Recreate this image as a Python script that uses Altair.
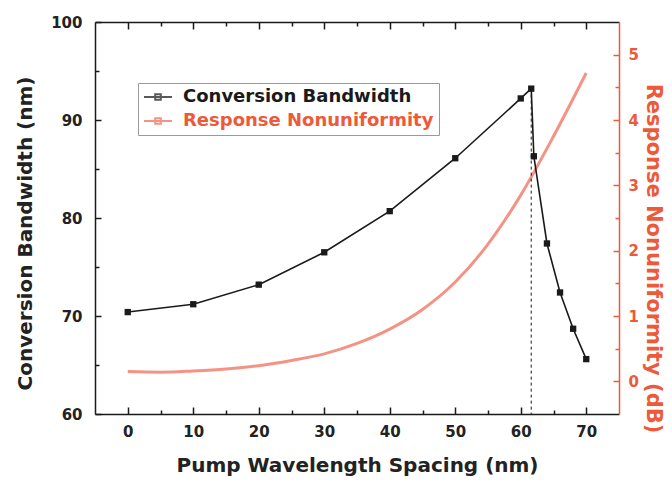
import altair as alt
import pandas as pd

# ---- data ----
spacing = [0, 10, 20, 30, 40, 50, 60, 61.6, 62, 64, 66, 68, 70]
bandwidth = [70.4, 71.2, 73.2, 76.5, 80.7, 86.1, 92.2, 93.2, 86.3, 77.4, 72.4, 68.7, 65.6]

nu_spacing = [0, 5, 10, 15, 20, 25, 30, 35, 40, 45, 50, 55, 60, 65, 70]
nonuniformity = [0.15, 0.14, 0.16, 0.19, 0.24, 0.32, 0.42, 0.58, 0.80, 1.10, 1.52, 2.10, 2.85, 3.75, 4.72]

peak_x = [61.6]
peak_y = [93.2]
floor_y = [60]

series = ["Conversion Bandwidth", "Response Nonuniformity"]

x_ticks = [0, 10, 20, 30, 40, 50, 60, 70]
x_minor = [5, 15, 25, 35, 45, 55, 65]
y_ticks = [60, 70, 80, 90, 100]
y_minor = [65, 75, 85, 95]
r_ticks = [0, 1, 2, 3, 4, 5]
r_minor = [0.5, 1.5, 2.5, 3.5, 4.5]

FONT = "DejaVu Sans"
INK = "#1a1a1a"
TXT = "#222222"
RED_AXIS = "#ec5a3a"
RED_LINE = "#f06a55"

df_bw = pd.DataFrame({"x": spacing, "y": bandwidth, "series": series[0]})
df_nu = pd.DataFrame({"x": nu_spacing, "y": nonuniformity, "series": series[1]})
df_peak = pd.DataFrame({"x": peak_x, "y": peak_y, "y2": floor_y})

XS = alt.Scale(domain=[-5, 75], nice=False, zero=False)
YL = alt.Scale(domain=[60, 100], nice=False, zero=False)
YR = alt.Scale(domain=[-0.5, 5.5], nice=False, zero=False)
COLOR = alt.Scale(domain=series, range=[INK, RED_LINE])


def axis(**kw):
    base = dict(grid=False, labels=False, ticks=False, domain=False, title=None)
    base.update(kw)
    return alt.Axis(**base)


def ticks_axis(orient, values, size, color=INK):
    return axis(orient=orient, values=values, ticks=True, tickSize=size, offset=-size,
                tickColor=color, tickWidth=1.5)


LEG = alt.Legend(
    title=None, orient="none", legendX=43, legendY=61,
    symbolType="M-2,0H2M-0.4,-0.4H0.4V0.4H-0.4Z", symbolSize=196, symbolStrokeWidth=2,
    symbolOffset=6, labelOffset=16, padding=5, rowPadding=6,
    labelFont=FONT, labelFontWeight="bold", labelFontSize=18, labelLimit=400,
    labelColor={"expr": "datum.value == 'Conversion Bandwidth' ? '#1a1a1a' : '#ec5a3a'"},
    strokeColor="#9a9a9a",
)

red_line = alt.Chart(df_nu).mark_line(strokeWidth=3, opacity=0.72, interpolate="monotone").encode(
    x=alt.X("x:Q", scale=XS, axis=axis(orient="top", domain=True, domainColor=INK, domainWidth=1.5)),
    y=alt.Y("y:Q", scale=YR, axis=axis(
        orient="right", domain=True, domainColor=RED_AXIS, domainWidth=1.5,
        labels=True, values=r_ticks, tickSize=0, labelPadding=9, labelColor=RED_AXIS,
        labelFontSize=15, title="Response Nonuniformity (dB)", titleColor=RED_AXIS,
        titleFontSize=21, titleAngle=90, titleX=33, titleY=236,
        titleBaseline="middle", titleAlign="center")),
    color=alt.Color("series:N", scale=COLOR, legend=LEG),
)

red_major = alt.Chart(df_nu).mark_point(opacity=0).encode(
    x=alt.X("x:Q", scale=XS, axis=None),
    y=alt.Y("y:Q", scale=YR, axis=ticks_axis("right", r_ticks, 6, RED_AXIS)),
)

red_minor = alt.Chart(df_nu).mark_point(opacity=0).encode(
    x=alt.X("x:Q", scale=XS, axis=None),
    y=alt.Y("y:Q", scale=YR, axis=ticks_axis("right", r_minor, 4, RED_AXIS)),
)

bw_line = alt.Chart(df_bw).mark_line(strokeWidth=1.6).encode(
    x=alt.X("x:Q", scale=XS, axis=ticks_axis("bottom", x_ticks, 7)),
    y=alt.Y("y:Q", scale=YL, axis=ticks_axis("left", y_ticks, 6)),
    color=alt.Color("series:N", scale=COLOR, legend=LEG),
)

bw_points = alt.Chart(df_bw).mark_square(size=40, color=INK, opacity=1).encode(
    x=alt.X("x:Q", scale=XS, axis=axis(
        orient="bottom", domain=True, domainColor=INK, domainWidth=1.5,
        labels=True, values=x_ticks, tickSize=0, labelPadding=10, labelColor=TXT,
        labelFontSize=15, title="Pump Wavelength Spacing (nm)", titleColor=TXT,
        titleFontSize=20, titleX=262, titleY=57, titleBaseline="alphabetic", titleAlign="center")),
    y=alt.Y("y:Q", scale=YL, axis=axis(
        orient="left", domain=True, domainColor=INK, domainWidth=1.5,
        labels=True, values=y_ticks, tickSize=0, labelPadding=13, labelColor=TXT,
        labelFontSize=15, title="Conversion Bandwidth (nm)", titleColor=TXT,
        titleFontSize=20, titleAngle=-90, titleX=-70, titleY=211,
        titleBaseline="middle", titleAlign="center")),
)

peak_rule = alt.Chart(df_peak).mark_rule(strokeDash=[3, 3], color=INK, strokeWidth=1).encode(
    x=alt.X("x:Q", scale=XS, axis=ticks_axis("bottom", x_minor, 4)),
    y=alt.Y("y:Q", scale=YL, axis=ticks_axis("left", y_minor, 4)),
    y2="y2:Q",
)

top_major = alt.Chart(df_bw).mark_point(opacity=0).encode(
    x=alt.X("x:Q", scale=XS, axis=ticks_axis("top", x_ticks, 7)),
    y=alt.Y("y:Q", scale=YL, axis=None),
)

top_minor = alt.Chart(df_bw).mark_point(opacity=0).encode(
    x=alt.X("x:Q", scale=XS, axis=ticks_axis("top", x_minor, 4)),
    y=alt.Y("y:Q", scale=YL, axis=None),
)

chart = alt.layer(
    red_line, red_major, red_minor, peak_rule, bw_line, bw_points, top_major, top_minor
).resolve_scale(
    y="independent"
).resolve_axis(
    x="independent", y="independent"
).properties(
    width=524, height=392,
    padding={"left": 87, "top": 14, "right": 45, "bottom": 62},
    autosize=alt.AutoSizeParams(type="none"),
).configure_view(
    stroke=None
).configure_axis(
    labelFont=FONT, titleFont=FONT, labelFontWeight="bold", titleFontWeight="bold"
)

chart.save("out.html", embed_options={"renderer": "svg", "actions": False})
